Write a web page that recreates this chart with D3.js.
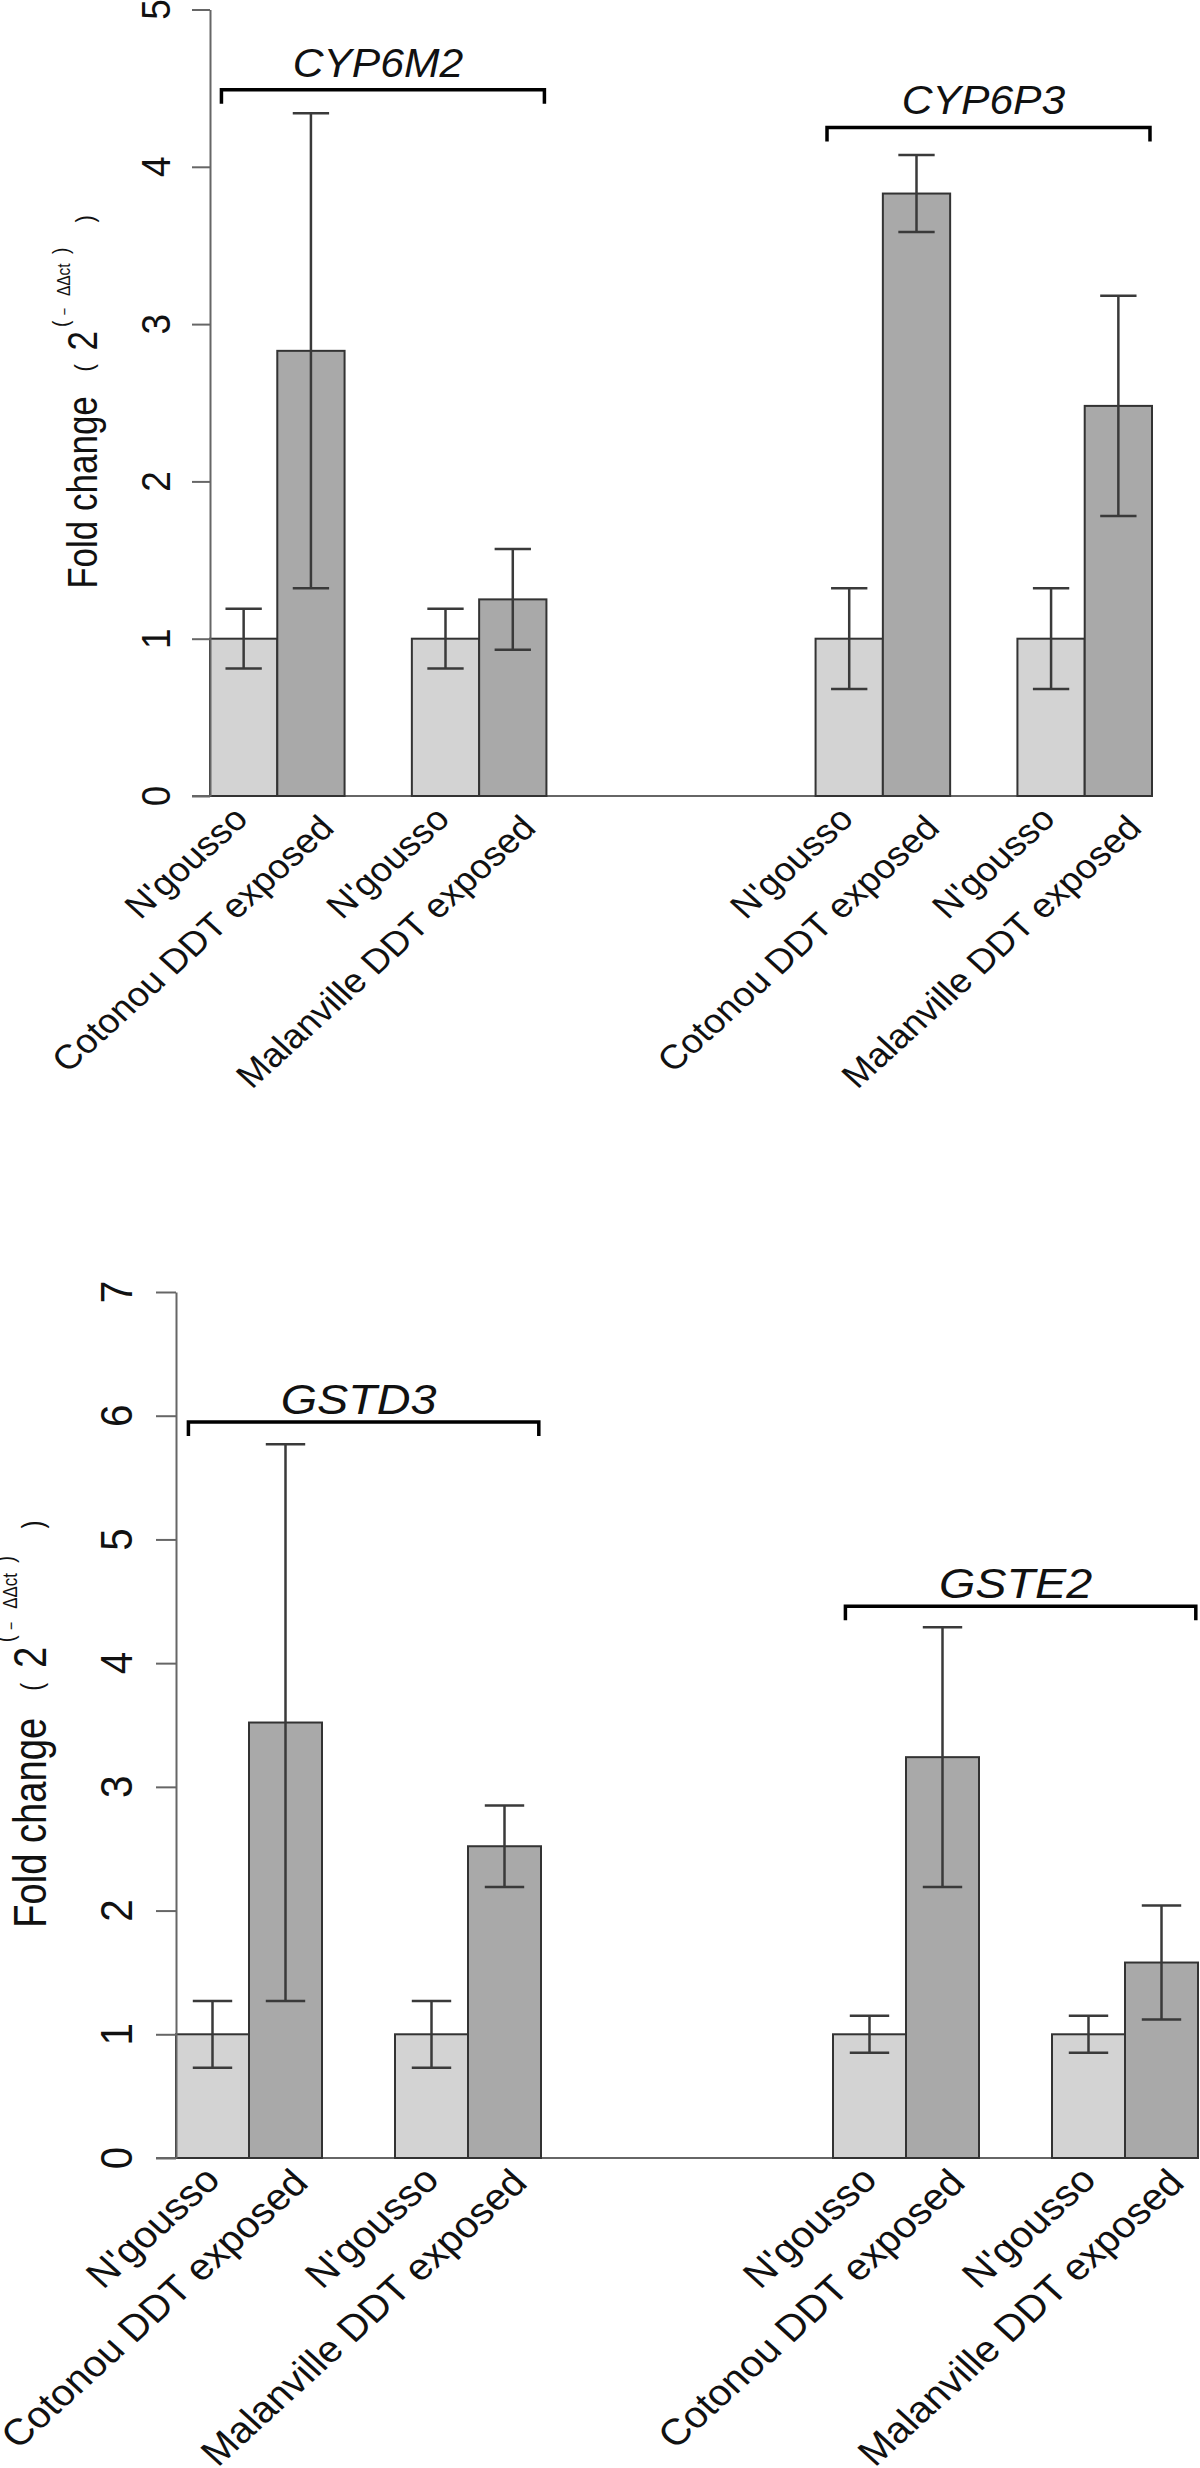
<!DOCTYPE html>
<html>
<head>
<meta charset="utf-8">
<script src="https://cdn.jsdelivr.net/npm/d3@7"></script>
<style>
  html, body { margin: 0; padding: 0; background: #fff; }
  svg { display: block; }
  text { font-family: "Liberation Sans", Arial, Helvetica, sans-serif; }
</style>
</head>
<body>
<svg id="chart" width="1200" height="2468"></svg>
<script>
// ---------- data ----------
const barLabels = ["N'gousso", "Cotonou DDT exposed", "N'gousso", "Malanville DDT exposed"];
const barGroup = ["control", "exposed", "control", "exposed"];

const genesTop = ["CYP6M2", "CYP6P3"];
const genesBottom = ["GSTD3", "GSTE2"];

const cyp6m2Mean = [1.00, 2.83, 1.00, 1.25];
const cyp6m2Err  = [0.19, 1.51, 0.19, 0.32];
const cyp6p3Mean = [1.00, 3.83, 1.00, 2.48];
const cyp6p3Err  = [0.32, 0.245, 0.32, 0.70];

const gstd3Mean = [1.00, 3.52, 1.00, 2.52];
const gstd3Err  = [0.27, 2.25, 0.27, 0.33];
const gste2Mean = [1.00, 3.24, 1.00, 1.58];
const gste2Err  = [0.15, 1.05, 0.15, 0.46];

const topTicks = [0, 1, 2, 3, 4, 5];
const bottomTicks = [0, 1, 2, 3, 4, 5, 6, 7];

const topBracketLevels = [4.49, 4.25];
const bottomBracketLevels = [5.95, 4.46];

// y-axis title pieces: "Fold change ( 2^(− ΔΔct) )"
const titleMain = "Fold change";
const titleSup = "ΔΔct";

// ---------- drawing ----------
const SX = 1.1; // the source figure is slightly stretched horizontally
const svg = d3.select("#chart");
svg.append("rect").attr("width", 1200).attr("height", 2468).attr("fill", "#fff");

const fillColor = { control: "#d3d3d3", exposed: "#a9a9a9" };
const slotStart = [0, 1, 3, 4];   // barplot slots within a gene block
const blockOffset = [0, 9];       // gene block offsets (in bar widths)

function panel(cfg) {
  const g = svg.append("g");
  const x = d3.scaleLinear().domain([0, 14]).range(cfg.xRange);
  const y = d3.scaleLinear().domain(cfg.yDomain).range(cfg.yRange);
  const w = x(1) - x(0);
  const k = cfg.fs;

  // baseline
  g.append("line")
    .attr("x1", x(0) - cfg.tick).attr("x2", x(14))
    .attr("y1", y(0)).attr("y2", y(0))
    .attr("stroke", "#666").attr("stroke-width", 2);

  cfg.genes.forEach((gene, gi) => {
    const means = cfg.means[gi], errs = cfg.errs[gi];
    // bars
    means.forEach((m, i) => {
      const s = blockOffset[gi] + slotStart[i];
      g.append("rect")
        .attr("x", x(s)).attr("y", y(m))
        .attr("width", w).attr("height", y(0) - y(m))
        .attr("fill", fillColor[barGroup[i]])
        .attr("stroke", "#333").attr("stroke-width", 2);
    });
    // error bars
    means.forEach((m, i) => {
      const s = blockOffset[gi] + slotStart[i];
      const cx = x(s + 0.5);
      const hi = y(m + errs[i]), lo = y(m - errs[i]);
      const cap = w * 0.27;
      const eg = g.append("g").attr("stroke", "#3a3a3a").attr("stroke-width", 2.5);
      eg.append("line").attr("x1", cx).attr("x2", cx).attr("y1", hi).attr("y2", lo);
      eg.append("line").attr("x1", cx - cap).attr("x2", cx + cap).attr("y1", hi).attr("y2", hi);
      eg.append("line").attr("x1", cx - cap).attr("x2", cx + cap).attr("y1", lo).attr("y2", lo);
    });

    // bracket + gene label
    const lvl = cfg.brackets[gi];
    const bx1 = x(blockOffset[gi] + 0.17), bx2 = x(blockOffset[gi] + 4.97);
    const by = y(lvl);
    g.append("path")
      .attr("d", `M${bx1},${by + 14}V${by}H${bx2}V${by + 14}`)
      .attr("fill", "none").attr("stroke", "#000").attr("stroke-width", 3.5);
    g.append("text")
      .attr("transform", `translate(${(bx1 + bx2) / 2 - 5},${by - cfg.geneGap}) scale(${cfg.geneSX},1)`)
      .attr("text-anchor", "middle")
      .attr("font-style", "italic")
      .attr("font-size", cfg.geneFs)
      .attr("fill", "#111")
      .text(gene);

    // x labels (rotated 45°)
    barLabels.forEach((lab, i) => {
      const s = blockOffset[gi] + slotStart[i];
      const off = barGroup[i] === "control" ? cfg.lightOff : cfg.darkOff;
      const px = x(s + 0.5) + off[0], py = y(0) + off[1];
      g.append("text")
        .attr("transform", `translate(${px},${py}) scale(${SX},1) rotate(-45)`)
        .attr("text-anchor", "end")
        .attr("font-size", cfg.labelFs)
        .attr("fill", "#111")
        .text(lab);
    });
  });

  // y axis
  const axis = d3.axisLeft(y).tickValues(cfg.ticks).tickSize(cfg.tick).tickSizeOuter(0).tickFormat("");
  const ag = g.append("g").attr("transform", `translate(${x(0)},0)`).call(axis);
  ag.select(".domain").attr("stroke", "#666").attr("stroke-width", 2);
  ag.selectAll(".tick line").attr("stroke", "#666").attr("stroke-width", 2);

  // tick labels (rotated, R style)
  cfg.ticks.forEach(t => {
    g.append("text")
      .attr("transform", `translate(${cfg.tickLabelX},${y(t)}) scale(${SX},1) rotate(-90)`)
      .attr("text-anchor", "middle")
      .attr("font-size", 37 * k)
      .attr("fill", "#111")
      .text(t);
  });

  // y title, assembled piece by piece along the rotated baseline
  const ty = (y(cfg.yDomain[0]) + y(cfg.yDomain[1])) / 2;
  const bx = cfg.titleX;
  const pieces = [
    // [text, along-offset (px, + = down), baseline shift (px, - = left), font size, anchor]
    [titleMain, 186, 0, 35, "start"],
    ["(", -35, -4, 22, "middle"],
    ["2", -62, 0, 35, "middle"],
    ["(", -79, -29, 19, "middle"],
    ["−", -91, -27, 13, "middle"],
    [titleSup, -123, -27, 15.5, "middle"],
    [")", -152, -29, 19, "middle"],
    [")", -184, -3, 22, "middle"]
  ];
  pieces.forEach(([txt, d, sh, fsz, anchor]) => {
    g.append("text")
      .attr("transform", `translate(${bx + sh * k},${ty + d * k}) scale(1.2,1) rotate(-90)`)
      .attr("text-anchor", anchor)
      .attr("font-size", fsz * k)
      .attr("fill", "#111")
      .text(txt);
  });
}

panel({
  xRange: [210, 1152], yDomain: [0, 5], yRange: [796, 9.5],
  ticks: topTicks, tick: 18, tickLabelX: 170, titleX: 97, fs: 1,
  labelFs: 34, lightOff: [6, 25], darkOff: [25, 34],
  geneGap: 13, geneFs: 41, geneSX: 1.04,
  genes: genesTop, means: [cyp6m2Mean, cyp6p3Mean], errs: [cyp6m2Err, cyp6p3Err],
  brackets: topBracketLevels
});

panel({
  xRange: [176, 1198], yDomain: [0, 7], yRange: [2158, 1292],
  ticks: bottomTicks, tick: 20, tickLabelX: 132, titleX: 46, fs: 1.09,
  labelFs: 37, lightOff: [9.5, 24], darkOff: [24.5, 27],
  geneGap: 8, geneFs: 42.5, geneSX: 1.1,
  genes: genesBottom, means: [gstd3Mean, gste2Mean], errs: [gstd3Err, gste2Err],
  brackets: bottomBracketLevels
});
</script>
</body>
</html>
